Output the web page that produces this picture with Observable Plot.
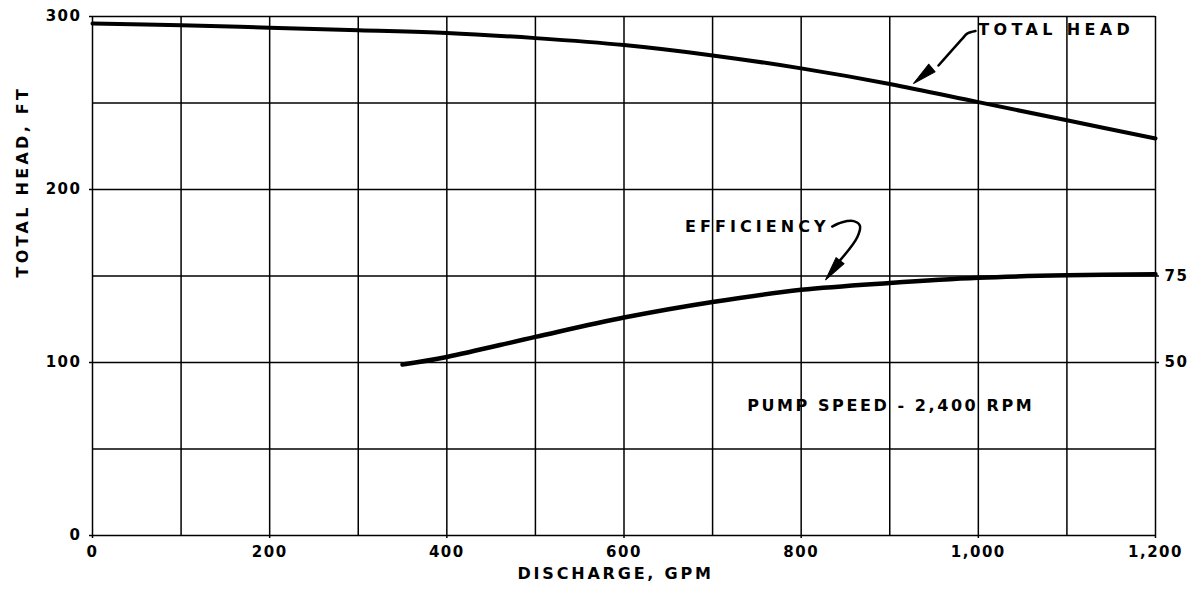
<!DOCTYPE html>
<html><head><meta charset="utf-8">
<script src="https://cdn.jsdelivr.net/npm/d3@7"></script>
<script src="https://cdn.jsdelivr.net/npm/@observablehq/plot@0.6"></script>
<style>body{margin:0;background:#fff}</style>
</head><body><div id="chart"></div>
<script>
// ---- data ----
const discharge = [0, 100, 200, 300, 400, 500, 600, 700, 800, 900, 1000, 1100, 1200];
const totalHead = [296, 295, 293.5, 292, 290.5, 287.5, 283.5, 277.5, 270, 261, 250.5, 240, 229.5];
const effDischarge = [350, 400, 500, 600, 700, 800, 900, 1000, 1100, 1200];
const efficiency = [49.4, 51.6, 57.4, 63, 67.5, 71, 73, 74.5, 75.2, 75.5];
const xTicks = [0, 200, 400, 600, 800, 1000, 1200];
const yTicks = [0, 100, 200, 300];
const effTicks = [50, 75];
const gridX = [0, 100, 200, 300, 400, 500, 600, 700, 800, 900, 1000, 1100, 1200];
const gridY = [0, 50, 100, 150, 200, 250, 300];
const labelTexts = ["TOTAL HEAD", "EFFICIENCY", "PUMP SPEED - 2,400 RPM"];
const labelX = [1000, 669, 739];
const labelY = [292.2, 178.6, 75.1];
const xTitle = "DISCHARGE, GPM";
const yTitle = "TOTAL HEAD, FT";
// annotation arrow shafts (gpm, ft) and heads
const headArrowShaft = [[996.8, 291.6], [987.4, 290.1], [981.8, 287.1], [955, 271.7]];
const effArrowShaft = [[835, 178.6], [846.3, 181.1], [859.4, 181.7], [866.2, 179.2], [863.3, 172.4], [843.6, 158.9]];
const arrowTipX = [926.8, 827.6];
const arrowTipY = [261.3, 147.8];
const arrowAngle = [-130, -143];

// ---- tables ----
const headData = discharge.map((d, i) => ({q: d, h: totalHead[i]}));
const effData = effDischarge.map((d, i) => ({q: d, e: efficiency[i]}));
const labels = labelTexts.map((t, i) => ({t, x: labelX[i], y: labelY[i]}));
const shafts = [
  ...headArrowShaft.map(([x, y]) => ({k: "head", x, y})),
  ...effArrowShaft.map(([x, y]) => ({k: "eff", x, y}))
];
const tips = arrowTipX.map((x, i) => ({x, y: arrowTipY[i], a: arrowAngle[i]}));

const headShape = {
  draw(context, l, r) {
    context.moveTo(0, -l);
    context.lineTo(-r, 0);
    context.lineTo(r, 0);
    context.closePath();
  }
};

const chart = Plot.plot({
  width: 1195,
  height: 590,
  marginLeft: 92,
  marginRight: 40,
  marginTop: 16,
  marginBottom: 55,
  x: {domain: [0, 1200], axis: null},
  y: {domain: [0, 300], axis: null},
  style: {fontFamily: "DejaVu Sans", fontSize: "15px", fontWeight: "bold", letterSpacing: "1.5px", color: "#000", background: "#fff"},
  marks: [
    Plot.ruleX(gridX, {stroke: "#000", strokeWidth: 1.5}),
    Plot.ruleY(gridY, {stroke: "#000", strokeWidth: 1.5}),
    Plot.axisX(xTicks, {tickFormat: d3.format(","), tickSize: 3, tickPadding: 8, label: null, strokeWidth: 1.5}),
    Plot.axisY(yTicks, {anchor: "left", tickSize: 3, tickPadding: 8, label: null, strokeWidth: 1.5}),
    Plot.axisY(effTicks.map(e => e * 2), {anchor: "right", tickFormat: d => d / 2, tickSize: 3, tickPadding: 6, label: null, strokeWidth: 1.5}),
    Plot.line(headData, {x: "q", y: "h", curve: "catmull-rom", stroke: "#000", strokeWidth: 4}),
    Plot.line(effData, {x: "q", y: d => d.e * 2, curve: "catmull-rom", stroke: "#000", strokeWidth: 4.5}),
    Plot.line(shafts, {x: "x", y: "y", z: "k", curve: "catmull-rom", stroke: "#000", strokeWidth: 2.5}),
    Plot.vector(tips, {x: "x", y: "y", rotate: "a", length: 24, r: 5, anchor: "end", shape: headShape, fill: "#000", stroke: "#000", strokeWidth: 1}),
    Plot.text(labels, {x: "x", y: "y", text: "t", textAnchor: "start", fill: "#000", fontSize: 16}),
    Plot.text([xTitle], {frameAnchor: "bottom", dx: -9, dy: 43, fill: "#000", fontSize: 16}),
    Plot.text([yTitle], {frameAnchor: "left", dx: -70, dy: 1.5, rotate: -90, fill: "#000", fontSize: 16})
  ]
});

const targetWidths = {"TOTAL HEAD": 153, "EFFICIENCY": 142, "PUMP SPEED - 2,400 RPM": 286, "DISCHARGE, GPM": 195, "TOTAL HEAD, FT": 190};
d3.select(chart).selectAll("text").each(function () {
  const w = targetWidths[this.textContent];
  if (w) {
    this.setAttribute("textLength", w);
    this.setAttribute("lengthAdjust", "spacing");
  }
});
document.getElementById("chart").appendChild(chart);
</script>
</body></html>
